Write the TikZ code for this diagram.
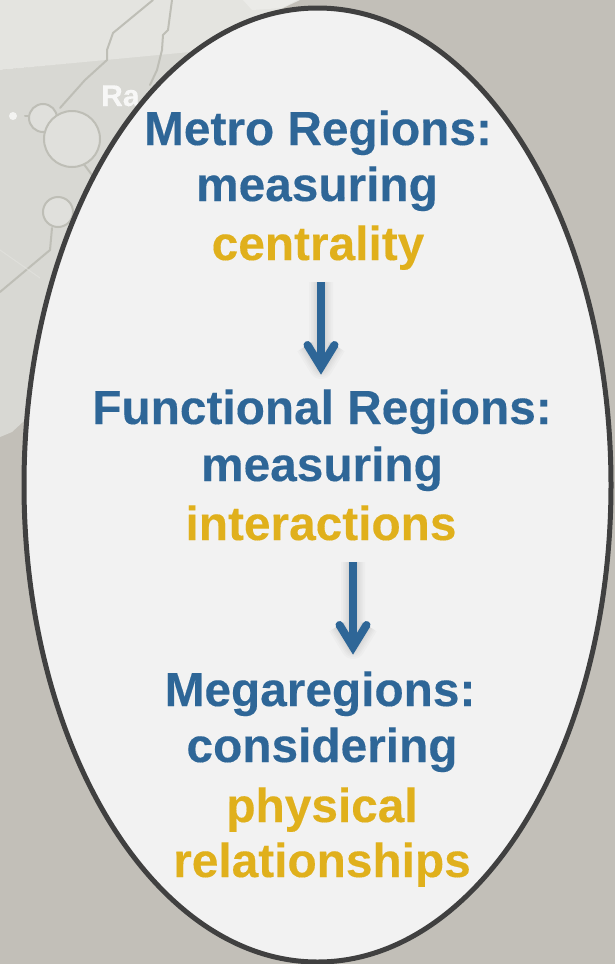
\documentclass[tikz,border=0pt]{standalone}
\usepackage{fontspec}
\setmainfont[BoldFeatures={FakeBold=0.25}]{Liberation Sans}
\usetikzlibrary{shapes.geometric}
\definecolor{bluetxt}{HTML}{2E6697}
\definecolor{goldtxt}{HTML}{E0B01C}
\definecolor{oval}{HTML}{F2F2F2}
\definecolor{ovalline}{HTML}{404040}
\definecolor{bgbottom}{HTML}{C2BFB8}
\definecolor{bgmid}{HTML}{D8D8D3}
\definecolor{bgtop}{HTML}{E4E4E0}
\definecolor{road}{HTML}{BEBEB6}
\tikzset{
  textline/.style={font=\fontsize{47.8}{47.8}\bfseries\selectfont,anchor=base,inner sep=0pt},
  bluetext/.style={textline,text=bluetxt},
  goldtext/.style={textline,text=goldtxt},
  flowarrow/.style={line width=8pt,draw=bluetxt},
  flowhead/.style={line width=8pt,draw=bluetxt,line join=miter,miter limit=10,line cap=round},
  arrowshadow/.style={line width=#1,draw=black,draw opacity=.018,shift={(1pt,-4pt)},line join=round},
  maproad/.style={draw=road,line width=2pt,line join=round,line cap=round},
  mapcity/.style={draw=road,line width=2pt,fill=bgtop!70!bgmid},
  ovalshape/.style={ellipse,draw=ovalline,line width=5pt,fill=oval,minimum width=587pt,minimum height=954pt,inner sep=0pt,outer sep=0pt}
}
\begin{document}
\begin{tikzpicture}[x=1pt,y=-1pt]
\useasboundingbox (0,0) rectangle (615,964);
% background map
\fill[bgbottom] (0,0) rectangle (615,964);
\fill[bgmid] (0,70) -- (200,50) -- (200,280) -- (100,400) -- (25,420) -- (12,432) -- (0,437) -- cycle;
\fill[bgtop] (0,0) -- (300,0) -- (190,52) -- (0,70) -- cycle;
\fill[bgtop!75!white] (243,0) -- (297,0) -- (282,8) -- (252,10) -- cycle;
\draw[maproad] (153,0) -- (113,33) -- (107,50) -- (107,60) -- (85,80) -- (60,108);
\draw[maproad] (172,0) -- (168,30) -- (163,35) -- (162,50) -- (157,70) -- (150,85);
\draw[maproad] (0,292) -- (50,250) -- (52,228);
\draw[maproad] (83,163) -- (92,175);
\draw[maproad] (25,116) -- (30,116);
\draw[bgtop,line width=1pt,opacity=.6] (0,250) -- (40,278);
\draw[mapcity] (43,118) circle (14);
\draw[mapcity] (72,139) circle (28);
\draw[mapcity] (58,212) circle (15);
\fill[white,opacity=.7] (13,116) circle (4);
\node[font=\fontsize{30}{30}\bfseries\selectfont,text=white,opacity=.8,anchor=base west,inner sep=0pt] (maplabel) at (101,106) {Ra};
% oval
\node[ovalshape] (oval) at (317.5,485) {};
% text
\node[bluetext] (t1) at (318,145) {Metro Regions:};
\node[bluetext] (t2) at (317,201) {measuring};
\node[goldtext] (t3) at (318,260) {centrality};
\node[bluetext] (t4) at (322,424) {Functional Regions:};
\node[bluetext] (t5) at (322,481) {measuring};
\node[goldtext] (t6) at (321,540) {interactions};
\node[bluetext] (t7) at (320,706) {Megaregions:};
\node[bluetext] (t8) at (322,762) {considering};
\node[goldtext] (t9) at (322,822) {physical};
\node[goldtext] (t10) at (322,877) {relationships};
% arrows
\coordinate (a1s) at (321,282);
\coordinate (a1m) at (321,367);
\coordinate (a1l) at (307.5,345);
\coordinate (a1r) at (334.5,345);
\coordinate (a2s) at (353,562);
\coordinate (a2m) at (353,647);
\coordinate (a2l) at (339.5,625);
\coordinate (a2r) at (366.5,625);
\foreach \w in {24pt,20pt,17pt,14pt,11pt,9pt}{
  \draw[arrowshadow=\w] (a1s) -- (a1m) (a1l) -- (a1m) -- (a1r);
  \draw[arrowshadow=\w] (a2s) -- (a2m) (a2l) -- (a2m) -- (a2r);
}
\draw[flowarrow] (a1s) -- (a1m);
\draw[flowhead] (a1l) -- (a1m) -- (a1r);
\draw[flowarrow] (a2s) -- (a2m);
\draw[flowhead] (a2l) -- (a2m) -- (a2r);
\end{tikzpicture}
\end{document}
